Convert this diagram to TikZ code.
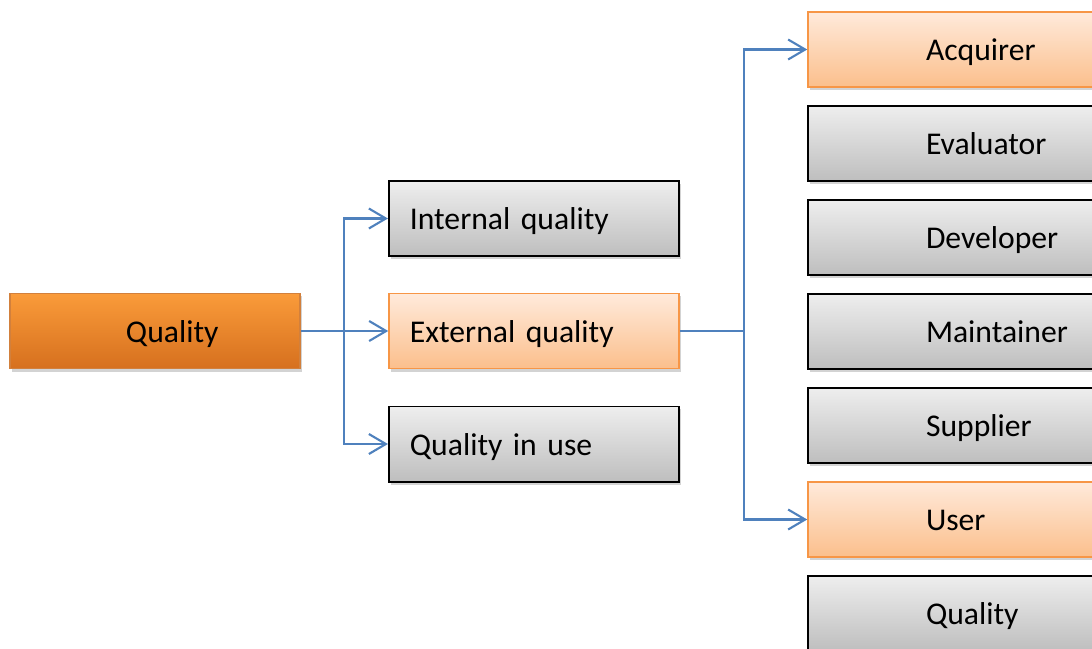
\documentclass[tikz,border=0pt]{standalone}
\usepackage{fontspec}
\setmainfont{Carlito}
\usetikzlibrary{arrows.meta,shadows}
\definecolor{linkblue}{HTML}{4F81BD}
\definecolor{orangeedge}{HTML}{F79646}
\definecolor{darktop}{HTML}{FA9B3A}
\definecolor{darkbottom}{HTML}{D6701E}
\definecolor{lighttop}{HTML}{FFEADB}
\definecolor{lightbottom}{HTML}{FBBF8C}
\definecolor{greytop}{HTML}{EEEEEE}
\definecolor{greybottom}{HTML}{BEBEBE}
\tikzset{
  box/.style={minimum width=2.9cm, minimum height=0.75cm, text width=2.7cm,
    inner xsep=0.1cm, align=left, text height=8pt, text depth=1.7pt,
    font=\fontsize{9}{11}\selectfont,
    drop shadow={shadow xshift=0.02cm, shadow yshift=-0.03cm, opacity=0.35}},
  darkbox/.style={box, draw=orangeedge!85!black, top color=darktop, bottom color=darkbottom},
  lightbox/.style={box, draw=orangeedge, top color=lighttop, bottom color=lightbottom},
  greybox/.style={box, draw=black, line width=0.55pt, top color=greytop, bottom color=greybottom},
  padleft/.style={execute at begin node={\hspace*{#1}}},
  link/.style={draw=linkblue, line width=0.6pt},
  tip/.style={-{Straight Barb[length=0.17cm, width=0.2cm]}}
}
\begin{document}
\begin{tikzpicture}[x=0.01cm, y=-0.01cm]
    \useasboundingbox (0,0) rectangle (1092,648);
    \clip (0,0) rectangle (1092,648);
    % root and middle column
    \node[darkbox, padleft=1.06cm] (quality) at (155,331) {Quality};
    \node[greybox, padleft=0.11cm] (intq) at (534,218.5) {Internal quality};
    \node[lightbox, padleft=0.11cm] (extq) at (534,331) {External quality};
    \node[greybox, padleft=0.11cm] (useq) at (534,444) {Quality in use};
    % right column
    \foreach \name/\sty [count=\i] in {Acquirer/lightbox, Evaluator/greybox,
        Developer/greybox, Maintainer/greybox, Supplier/greybox, User/lightbox,
        Quality/greybox}
    \node[\sty, padleft=1.08cm] (role\i) at (953,{49.5+94*(\i-1)}) {\name};
    % connectors
    \coordinate (qjoin) at (344,331);
    \coordinate (ejoin) at (744,331);
    \draw[link] (quality) -- (qjoin);
    \draw[link, tip] (qjoin) |- (intq);
    \draw[link, tip] (qjoin) -- (extq);
    \draw[link, tip] (qjoin) |- (useq);
    \draw[link] (extq) -- (ejoin);
    \draw[link, tip] (ejoin) |- (role1);
    \draw[link, tip] (ejoin) |- (role6);
\end{tikzpicture}
\end{document}
